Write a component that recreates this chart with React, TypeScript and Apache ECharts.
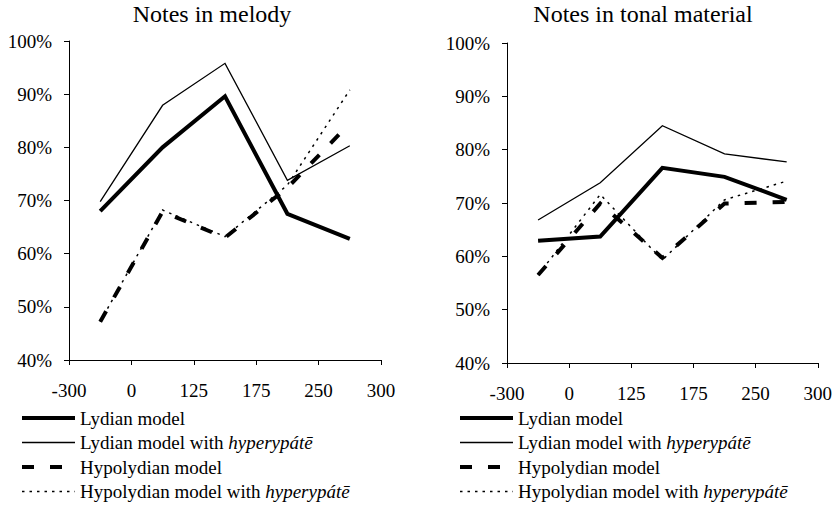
import React, { useEffect, useRef } from "react";
import * as echarts from "echarts";

const tickLabels = ["-300", "0", "125", "175", "250", "300"];
const categories = tickLabels.slice(0, -1).map((t, i) => `${t}–${tickLabels[i + 1]}`);

const seriesNames = [
  "Lydian model",
  "Lydian model with hyperypátē",
  "Hypolydian model",
  "Hypolydian model with hyperypátē",
];

// Notes in melody (%)
const melodyLydian = [68.0, 80.0, 89.6, 67.5, 62.8];
const melodyLydianHyp = [69.8, 87.9, 95.8, 73.8, 80.3];
const melodyHypolydian = [47.2, 67.9, 63.0, 72.4, 84.5];
const melodyHypolydianHyp = [47.2, 68.2, 63.2, 72.9, 90.8];

// Notes in tonal material (%)
const tonalLydian = [62.9, 63.7, 76.6, 74.9, 70.6];
const tonalLydianHyp = [66.8, 73.8, 84.5, 79.2, 77.7];
const tonalHypolydian = [56.5, 69.9, 59.7, 69.9, 70.2];
const tonalHypolydianHyp = [56.5, 71.6, 59.3, 70.6, 74.1];

const FONT = "Liberation Serif";

const lineStyles: any[] = [
  { color: "#000", width: 4, type: "solid" },
  { color: "#000", width: 1.3, type: "solid" },
  { color: "#000", width: 4, type: [12, 16] },
  { color: "#000", width: 1.5, type: [2.5, 5] },
];

export default function App() {
  const ref = useRef<HTMLDivElement>(null);

  useEffect(() => {
    if (!ref.current) return;
    const chart = echarts.init(ref.current, null, { renderer: "svg" });

    const panels = [
      { title: "Notes in melody", data: [melodyLydian, melodyLydianHyp, melodyHypolydian, melodyHypolydianHyp] },
      { title: "Notes in tonal material", data: [tonalLydian, tonalLydianHyp, tonalHypolydian, tonalHypolydianHyp] },
    ];
    const grids = [
      { left: 69, top: 41, width: 312, height: 319 },
      { left: 507, top: 43, width: 312, height: 320 },
    ];
    const titleCenters = [212, 643];
    const legendLefts = [20, 458];

    const axisCommon = {
      axisLine: { show: true, lineStyle: { color: "#000", width: 1 } },
      axisTick: { show: true, inside: false, length: 5, lineStyle: { color: "#000", width: 1 } },
      splitLine: { show: false },
    };

    const xAxis: any[] = [];
    const yAxis: any[] = [];
    const series: any[] = [];
    panels.forEach((p, gi) => {
      xAxis.push({
        type: "category",
        gridIndex: gi,
        data: categories,
        boundaryGap: true,
        show: false,
      });
      xAxis.push({
        type: "value",
        gridIndex: gi,
        min: 0,
        max: tickLabels.length - 1,
        interval: 1,
        position: "bottom",
        ...axisCommon,
        axisLabel: {
          color: "#000",
          fontFamily: FONT,
          fontSize: 19,
          margin: 21,
          formatter: (v: number) => tickLabels[v] ?? "",
        },
      });
      yAxis.push({
        type: "value",
        gridIndex: gi,
        min: 40,
        max: 100,
        interval: 10,
        ...axisCommon,
        axisLabel: {
          color: "#000",
          fontFamily: FONT,
          fontSize: 19,
          margin: 17,
          padding: [6, 0, 0, 0],
          formatter: "{value}%",
        },
      });
      p.data.forEach((d, si) => {
        series.push({
          type: "line",
          name: seriesNames[si],
          xAxisIndex: gi * 2,
          yAxisIndex: gi,
          data: d,
          symbol: "none",
          showSymbol: false,
          lineStyle: { ...lineStyles[si], cap: "butt", join: "miter" },
          itemStyle: { color: "#000" },
          z: 2 + (si === 0 ? 2 : si === 3 ? 1 : 0),
        });
      });
    });

    chart.setOption({
      animation: false,
      backgroundColor: "#fff",
      title: panels.map((p, i) => ({
        text: p.title,
        left: titleCenters[i],
        top: 2,
        textAlign: "center",
        padding: 0,
        textStyle: { fontFamily: FONT, fontSize: 24, fontWeight: "normal", color: "#000" },
      })),
      grid: grids,
      xAxis,
      yAxis,
      legend: legendLefts.map((l) => ({
        orient: "vertical",
        left: l,
        top: 408,
        padding: 0,
        itemWidth: 53,
        itemHeight: 16,
        itemGap: 4.5,
        selectedMode: false,
        data: seriesNames.map((n, i) => ({
          name: n,
          itemStyle: { opacity: 0, borderWidth: 0, color: "transparent" },
          lineStyle: {
            color: "#000",
            width: lineStyles[i].width,
            type: lineStyles[i].type,
            cap: "butt",
            opacity: 1,
          },
        })),
        formatter: (name: string) => name.replace("hyperypátē", "{i|hyperypátē}"),
        textStyle: {
          fontFamily: FONT,
          fontSize: 19,
          lineHeight: 20,
          color: "#000",
          rich: {
            i: { fontFamily: FONT, fontSize: 19, fontStyle: "italic", color: "#000", lineHeight: 20 },
          },
        },
      })),
      series,
    });

    return () => chart.dispose();
  }, []);

  return (
    <div
      ref={ref}
      style={{ position: "fixed", left: 0, top: 0, width: 835, height: 524, background: "#fff" }}
    />
  );
}
